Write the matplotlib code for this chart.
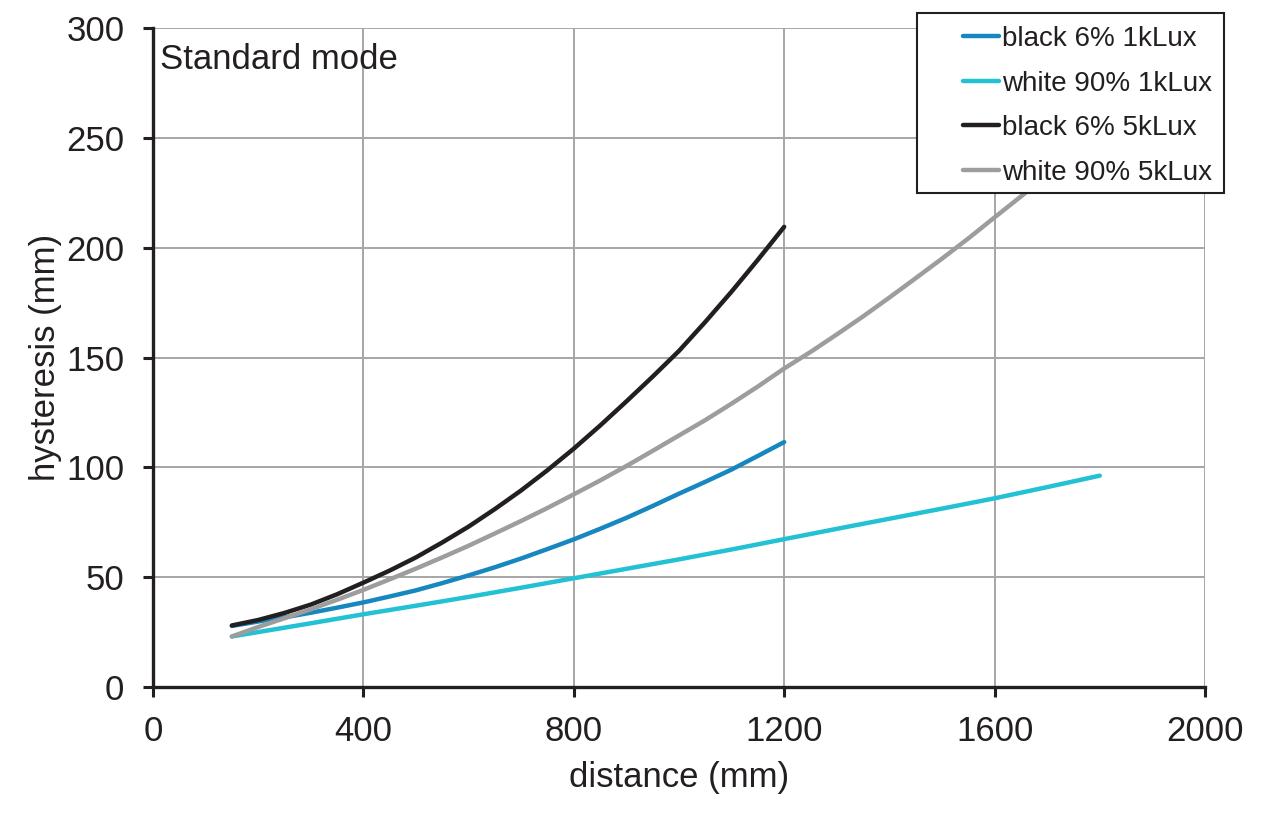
import numpy as np
import matplotlib
matplotlib.use("Agg")
import matplotlib.pyplot as plt
from matplotlib.patches import Rectangle

plt.rcParams['font.family'] = ['Liberation Sans', 'DejaVu Sans']

# values
x_black = [150, 200, 250, 300, 350, 400, 450, 500, 550, 600, 650, 700, 750, 800,
           850, 900, 950, 1000, 1050, 1100, 1150, 1200]
black_1k = [27.8, 29.8, 31.7, 33.8, 36.1, 38.5, 41.2, 44.0, 47.3, 50.8, 54.5, 58.5,
            62.8, 67.2, 72.0, 77.0, 82.4, 88.0, 93.4, 99.0, 105.2, 111.5]
black_5k = [28.0, 30.5, 33.7, 37.5, 42.2, 47.5, 53.0, 59.0, 65.8, 73.0, 81.0, 89.5,
            98.7, 108.5, 119.0, 130.0, 141.3, 153.0, 166.2, 180.0, 194.5, 209.5]

x_white1 = [150, 200, 300, 400, 500, 600, 700, 800, 900, 1000, 1100, 1200,
            1300, 1400, 1500, 1600, 1700, 1800]
white_1k = [23.0, 25.0, 29.0, 33.1, 37.0, 41.0, 45.2, 49.5, 53.8, 58.1, 62.6, 67.3,
            72.0, 76.6, 81.2, 85.9, 91.0, 96.2]

x_white5 = [150, 200, 250, 300, 350, 400, 450, 500, 550, 600, 650, 700, 750, 800,
            850, 900, 950, 1000, 1050, 1100, 1150, 1200, 1250, 1300, 1350, 1400,
            1450, 1500, 1550, 1600, 1650, 1700, 1750, 1800]
white_5k = [23.0, 27.3, 31.3, 35.4, 39.7, 44.2, 49.0, 53.9, 59.0, 64.3, 69.9, 75.6,
            81.5, 87.7, 94.0, 100.6, 107.5, 114.5, 121.5, 129.0, 136.8, 145.0,
            152.5, 160.5, 168.7, 177.3, 186.1, 195.0, 204.2, 213.8, 223.3, 233.0,
            243.0, 253.0]

labels = ["black 6% 1kLux", "white 90% 1kLux", "black 6% 5kLux", "white 90% 5kLux"]
colors = ["#1787bf", "#22c1d4", "#231f20", "#9d9d9d"]
ink = "#231f20"

fig = plt.figure(figsize=(12.8, 8.32), dpi=100)
ax = fig.add_axes([0.1195, 0.1743, 0.8219, 0.7920])

series = [(x_black, black_1k), (x_white1, white_1k), (x_black, black_5k), (x_white5, white_5k)]
for (xs, ys), lab, col in zip(series, labels, colors):
    ax.plot(xs, ys, color=col, lw=3.2, label=lab, solid_capstyle="round",
            solid_joinstyle="round", zorder=3)

ax.set_xlim(0, 2000)
ax.set_ylim(0, 300)
ax.set_xticks(np.arange(0, 2001, 400))
ax.set_yticks(np.arange(0, 301, 50))
ax.grid(True, color="#a6a6a6", lw=1.4, zorder=0)
ax.set_axisbelow(True)

for s in ["top", "right"]:
    ax.spines[s].set_visible(False)
for s in ["left", "bottom"]:
    ax.spines[s].set_linewidth(2.4)
    ax.spines[s].set_color(ink)
    ax.spines[s].set_zorder(4)

ax.tick_params(axis="both", direction="out", length=7.5, width=2.2, color=ink,
               labelsize=25, labelcolor=ink, pad=13)

ax.set_xlabel("distance (mm)", fontsize=25, color=ink, labelpad=9)
ax.set_ylabel("hysteresis (mm)", fontsize=25, color=ink, labelpad=3)

ax.text(0.007, 0.978, "Standard mode", transform=ax.transAxes, fontsize=25,
        color=ink, va="top", ha="left")

# legend box (opaque, covers the grey curve)
box = Rectangle((917 / 1280, 1 - 193 / 832), 307 / 1280, 180 / 832,
                transform=fig.transFigure, facecolor="white", edgecolor=ink,
                lw=1.5, zorder=8, clip_on=False)
ax.add_patch(box)

leg = ax.legend(loc="upper left", bbox_to_anchor=(963 / 1280, 1 - 26 / 832),
                bbox_transform=fig.transFigure, fontsize=20, frameon=False,
                handlelength=1.3, handletextpad=0.1, labelspacing=0.67,
                borderpad=0, borderaxespad=0)
leg.set_zorder(10)
for t in leg.get_texts():
    t.set_color(ink)

fig.savefig("out.png", dpi=100)
